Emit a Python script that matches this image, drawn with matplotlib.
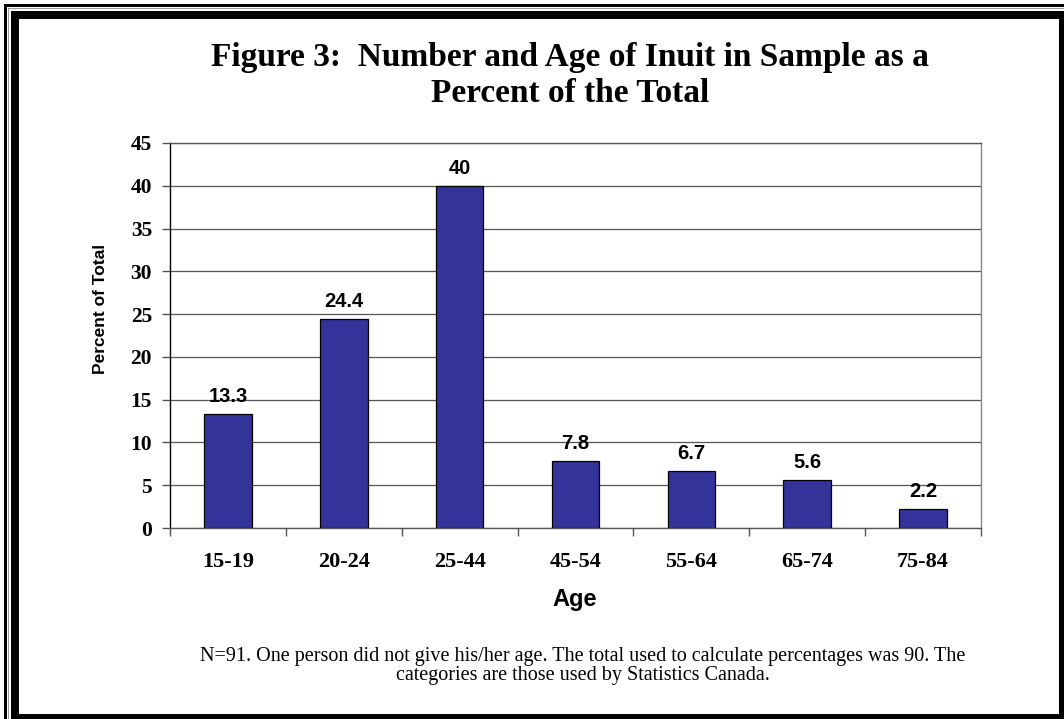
import matplotlib
matplotlib.use("Agg")
import matplotlib.pyplot as plt
from matplotlib.patches import Rectangle

# data
AGE_GROUPS = ["15-19", "20-24", "25-44", "45-54", "55-64", "65-74", "75-84"]
PERCENTS = [13.3, 24.4, 40, 7.8, 6.7, 5.6, 2.2]
VALUE_LABELS = ["13.3", "24.4", "40", "7.8", "6.7", "5.6", "2.2"]
Y_TICKS = [0, 5, 10, 15, 20, 25, 30, 35, 40, 45]

TITLE_1 = "Figure 3:  Number and Age of Inuit in Sample as a"
TITLE_2 = "Percent of the Total"
NOTE = ("N=91. One person did not give his/her age. The total used to calculate percentages was 90. The\n"
        "categories are those used by Statistics Canada.")

W, H = 1064, 719
BAR_COLOR = "#333399"
SERIF = "Liberation Serif"
SANS = "Liberation Sans"

fig = plt.figure(figsize=(W / 100, H / 100), dpi=100)
fig.patch.set_facecolor("white")


def px_rect(x0, y0, x1, y1, color="black"):
    # rectangle given in pixel coords from top-left
    fig.add_artist(Rectangle((x0 / W, 1 - y1 / H), (x1 - x0) / W, (y1 - y0) / H,
                             transform=fig.transFigure, facecolor=color,
                             edgecolor="none", zorder=10))


# double frame
px_rect(4, 4, W, 7)
px_rect(4, 4, 7, H)
px_rect(8, 8, W, 9, "#999999")
px_rect(8, 8, 9, H, "#999999")
px_rect(11, 11, W, 19)
px_rect(11, 11, 19, H)
px_rect(1059, 11, W, H)
px_rect(11, 714, W, H)

ax = fig.add_axes([170 / W, 1 - 528 / H, (981 - 170) / W, (528 - 143) / H])

x = list(range(len(AGE_GROUPS)))
bars = ax.bar(x, PERCENTS, width=0.41, color=BAR_COLOR, edgecolor="black",
              linewidth=0.9, zorder=3)

for xi, v, lab in zip(x, PERCENTS, VALUE_LABELS):
    ax.text(xi, v + 1.4, lab, ha="center", va="baseline", fontsize=14.5,
            fontweight="bold", family=SANS, zorder=4)

ax.set_xlim(-0.5, len(AGE_GROUPS) - 0.5)
ax.set_ylim(0, 45)
ax.set_yticks(Y_TICKS)
ax.set_yticklabels([str(t) for t in Y_TICKS], fontsize=15.5, fontweight="bold",
                   family=SERIF)
ax.set_xticks(x)
ax.set_xticklabels(AGE_GROUPS, fontsize=16, fontweight="bold", family=SERIF)
ax.set_xticks([i + 0.5 for i in range(-1, len(AGE_GROUPS))], minor=True)
ax.tick_params(axis="x", which="major", length=0, pad=17)
ax.tick_params(axis="x", which="minor", length=6, width=1, color="#555555")
ax.tick_params(axis="y", length=6, width=1, pad=7, color="#555555")

ax.grid(axis="y", color="#555555", linewidth=0.9, zorder=0)
ax.spines["left"].set_color("black")
ax.spines["bottom"].set_color("#555555")
ax.spines["top"].set_color("#555555")
ax.spines["right"].set_color("#888888")
for s in ax.spines.values():
    s.set_linewidth(1)

ax.set_ylabel("Percent of Total", fontsize=12.5, fontweight="bold", family=SANS)
ax.yaxis.set_label_coords(-0.077, 0.569)
ax.set_xlabel("Age", fontsize=17, fontweight="bold", family=SANS)
ax.xaxis.set_label_coords(0.499, -0.156)

fig.text(570 / W, 1 - 66 / H, TITLE_1, ha="center", va="baseline", fontsize=24,
         fontweight="bold", family=SERIF)
fig.text(570 / W, 1 - 102 / H, TITLE_2, ha="center", va="baseline", fontsize=24,
         fontweight="bold", family=SERIF)
fig.text(583 / W, 1 - 666 / H, NOTE, ha="center", va="center", fontsize=14.5,
         family=SERIF, linespacing=1.0)

fig.savefig("out.png", dpi=100)
